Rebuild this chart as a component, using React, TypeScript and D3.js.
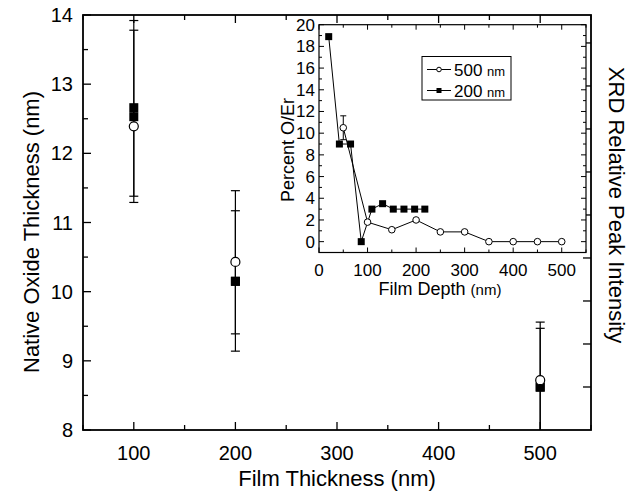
import React from "react";
import * as d3 from "d3";

// main plot: native oxide thickness vs film thickness
const filmThickness = [100, 200, 500];
const oxideOpen = [12.39, 10.43, 8.72];
const oxideOpenLo = [11.38, 9.39, 7.9];
const oxideOpenHi = [13.78, 11.46, 9.56];
const oxideFilled = [12.66, 10.15, 8.62];
const oxideFilled2 = [12.53, 10.15, 8.62];
const oxideFilledLo = [11.29, 9.14, 7.7];
const oxideFilledHi = [13.92, 11.17, 9.47];

const mainXTicks = [100, 200, 300, 400, 500];
const mainXMinor = [50, 150, 250, 350, 450, 550];
const mainYTicks = [8, 9, 10, 11, 12, 13, 14];
const mainYMinor = [8.5, 9.5, 10.5, 11.5, 12.5, 13.5];
const rightTicks = [1, 2, 3, 4, 5, 6, 7, 8, 9];

// inset: percent O/Er vs film depth
const depth500 = [50, 100, 150, 200, 250, 300, 350, 400, 450, 500];
const pct500 = [10.5, 1.8, 1.1, 2.0, 0.9, 0.9, 0, 0, 0, 0];
const pct500Err = [1.1, 0, 0, 0, 0, 0, 0, 0, 0, 0];
const depth200 = [20, 42, 65, 87, 109, 131, 153, 175, 197, 218];
const pct200 = [18.9, 9, 9, 0, 3, 3.5, 3, 3, 3, 3];

const insetXTicks = [0, 100, 200, 300, 400, 500];
const insetXMinor = [50, 150, 250, 350, 450, 550];
const insetYTicks = [0, 2, 4, 6, 8, 10, 12, 14, 16, 18, 20];
const insetYMinor = [-1, 1, 3, 5, 7, 9, 11, 13, 15, 17, 19];

const font = "'Liberation Sans', Arial, sans-serif";

export default function App() {
  const x = d3.scaleLinear().domain([50, 550]).range([83, 591]);
  const y = d3.scaleLinear().domain([8, 14]).range([430, 15]);
  const yr = d3.scaleLinear().domain([0, 9.65]).range([430, 15]);

  const ix = d3.scaleLinear().domain([0, 550]).range([319, 586]);
  const iy = d3.scaleLinear().domain([-1, 20]).range([252.5, 24.7]);

  const line500 = d3.line<number>().x((d, i) => ix(depth500[i])).y(d => iy(d));
  const line200 = d3.line<number>().x((d, i) => ix(depth200[i])).y(d => iy(d));

  const [x0, x1] = x.range();
  const [yb, yt] = y.range();
  const [ix0, ix1] = ix.range();
  const [iyb, iyt] = iy.range();
  const sq = 9;

  return (
    <svg width={635} height={491} style={{ position: "absolute", left: 0, top: 0, background: "#fff" }} fontFamily={font}>
      <defs>
        <clipPath id="mainClip">
          <rect x={x0} y={yt} width={x1 - x0} height={yb - yt} />
        </clipPath>
      </defs>

      {/* main ticks */}
      <g stroke="#000" strokeWidth={1.3}>
        {mainXTicks.map(t => (
          <g key={"xt" + t}>
            <line x1={x(t)} x2={x(t)} y1={yb} y2={yb - 8} />
            <line x1={x(t)} x2={x(t)} y1={yt} y2={yt + 8} />
          </g>
        ))}
        {mainXMinor.map(t => (
          <g key={"xm" + t}>
            <line x1={x(t)} x2={x(t)} y1={yb} y2={yb - 5} />
            <line x1={x(t)} x2={x(t)} y1={yt} y2={yt + 5} />
          </g>
        ))}
        {mainYTicks.map(t => <line key={"yt" + t} x1={x0} x2={x0 + 8} y1={y(t)} y2={y(t)} />)}
        {mainYMinor.map(t => <line key={"ym" + t} x1={x0} x2={x0 + 5} y1={y(t)} y2={y(t)} />)}
        {rightTicks.map(t => <line key={"rt" + t} x1={x1} x2={x1 - 8} y1={yr(t)} y2={yr(t)} />)}
      </g>
      <rect x={x0} y={yt} width={x1 - x0} height={yb - yt} fill="none" stroke="#000" strokeWidth={1.8} />

      {/* tick labels */}
      <g fontSize={20} textAnchor="middle">
        {mainXTicks.map(t => <text key={"xl" + t} x={x(t)} y={460}>{t}</text>)}
      </g>
      <g fontSize={20} textAnchor="end">
        {mainYTicks.map(t => <text key={"yl" + t} x={x0 - 10} y={y(t) + 7}>{t}</text>)}
      </g>

      {/* axis titles */}
      <text x={337} y={486} fontSize={22} textAnchor="middle">Film Thickness (nm)</text>
      <text transform="translate(39,232) rotate(-90)" fontSize={22} textAnchor="middle">Native Oxide Thickness (nm)</text>
      <text transform="translate(609,205) rotate(90)" fontSize={22} textAnchor="middle">XRD Relative Peak Intensity</text>

      {/* error bars + markers */}
      <g clipPath="url(#mainClip)" stroke="#000" strokeWidth={1.2}>
        {filmThickness.map((t, i) => (
          <g key={"ef" + t}>
            <line x1={x(t)} x2={x(t)} y1={y(oxideFilledLo[i])} y2={y(oxideFilledHi[i])} />
            <line x1={x(t) - 4.5} x2={x(t) + 4.5} y1={y(oxideFilledLo[i])} y2={y(oxideFilledLo[i])} />
            <line x1={x(t) - 4.5} x2={x(t) + 4.5} y1={y(oxideFilledHi[i])} y2={y(oxideFilledHi[i])} />
          </g>
        ))}
        {filmThickness.map((t, i) => (
          <g key={"eo" + t}>
            <line x1={x(t)} x2={x(t)} y1={y(oxideOpenLo[i])} y2={y(oxideOpenHi[i])} />
            <line x1={x(t) - 4.5} x2={x(t) + 4.5} y1={y(oxideOpenLo[i])} y2={y(oxideOpenLo[i])} />
            <line x1={x(t) - 4.5} x2={x(t) + 4.5} y1={y(oxideOpenHi[i])} y2={y(oxideOpenHi[i])} />
          </g>
        ))}
      </g>
      {filmThickness.map((t, i) => (
        <g key={"mk" + t}>
          <rect x={x(t) - sq / 2} y={y(oxideFilled[i]) - sq / 2} width={sq} height={sq} fill="#000" />
          <rect x={x(t) - sq / 2} y={y(oxideFilled2[i]) - sq / 2} width={sq} height={sq} fill="#000" />
          <circle cx={x(t)} cy={y(oxideOpen[i])} r={4.5} fill="#fff" stroke="#000" strokeWidth={1.2} />
        </g>
      ))}

      {/* inset */}
      <g>
        <rect x={ix0} y={iyt} width={ix1 - ix0} height={iyb - iyt} fill="#fff" stroke="none" />
        <g stroke="#000" strokeWidth={1}>
          {insetXTicks.map(t => (
            <g key={"ixt" + t}>
              <line x1={ix(t)} x2={ix(t)} y1={iyb} y2={iyb - 5} />
              <line x1={ix(t)} x2={ix(t)} y1={iyt} y2={iyt + 5} />
            </g>
          ))}
          {insetXMinor.map(t => (
            <g key={"ixm" + t}>
              <line x1={ix(t)} x2={ix(t)} y1={iyb} y2={iyb - 3} />
              <line x1={ix(t)} x2={ix(t)} y1={iyt} y2={iyt + 3} />
            </g>
          ))}
          {insetYTicks.map(t => (
            <g key={"iyt" + t}>
              <line x1={ix0} x2={ix0 + 5} y1={iy(t)} y2={iy(t)} />
              <line x1={ix1} x2={ix1 - 5} y1={iy(t)} y2={iy(t)} />
            </g>
          ))}
          {insetYMinor.map(t => (
            <g key={"iym" + t}>
              <line x1={ix0} x2={ix0 + 3} y1={iy(t)} y2={iy(t)} />
              <line x1={ix1} x2={ix1 - 3} y1={iy(t)} y2={iy(t)} />
            </g>
          ))}
        </g>
        <rect x={ix0} y={iyt} width={ix1 - ix0} height={iyb - iyt} fill="none" stroke="#000" strokeWidth={1.2} />

        <g fontSize={17} textAnchor="middle">
          {insetXTicks.map(t => <text key={"ixl" + t} x={ix(t)} y={276}>{t}</text>)}
        </g>
        <g fontSize={17} textAnchor="end">
          {insetYTicks.map(t => <text key={"iyl" + t} x={ix0 - 4} y={iy(t) + 6}>{t}</text>)}
        </g>
        <text x={440} y={295} fontSize={18} textAnchor="middle">
          Film Depth <tspan fontSize={15}>(nm)</tspan>
        </text>
        <text transform="translate(294,150) rotate(-90)" fontSize={18} textAnchor="middle">Percent O/Er</text>

        <path d={line500(pct500) || ""} fill="none" stroke="#000" strokeWidth={1} />
        <path d={line200(pct200) || ""} fill="none" stroke="#000" strokeWidth={1} />
        {depth500.map((d, i) => pct500Err[i] > 0 ? (
          <g key={"ie" + d} stroke="#000" strokeWidth={1}>
            <line x1={ix(d)} x2={ix(d)} y1={iy(pct500[i] - pct500Err[i])} y2={iy(pct500[i] + pct500Err[i])} />
            <line x1={ix(d) - 3} x2={ix(d) + 3} y1={iy(pct500[i] + pct500Err[i])} y2={iy(pct500[i] + pct500Err[i])} />
            <line x1={ix(d) - 3} x2={ix(d) + 3} y1={iy(pct500[i] - pct500Err[i])} y2={iy(pct500[i] - pct500Err[i])} />
          </g>
        ) : null)}
        {depth500.map((d, i) => (
          <circle key={"ic" + d} cx={ix(d)} cy={iy(pct500[i])} r={3.3} fill="#fff" stroke="#000" strokeWidth={1} />
        ))}
        {depth200.map((d, i) => (
          <rect key={"is" + d} x={ix(d) - 3.5} y={iy(pct200[i]) - 3.5} width={7} height={7} fill="#000" />
        ))}

        {/* legend */}
        <rect x={422} y={56.5} width={89} height={43.5} fill="#fff" stroke="#000" strokeWidth={1} />
        <line x1={427} x2={451} y1={69.5} y2={69.5} stroke="#000" strokeWidth={1} />
        <circle cx={439} cy={69.5} r={2.3} fill="#fff" stroke="#000" strokeWidth={1} />
        <text x={454} y={75.5} fontSize={17}>500 <tspan fontSize={13}>nm</tspan></text>
        <line x1={427} x2={451} y1={90.5} y2={90.5} stroke="#000" strokeWidth={1} />
        <rect x={436.5} y={88} width={5} height={5} fill="#000" />
        <text x={454} y={96.5} fontSize={17}>200 <tspan fontSize={13}>nm</tspan></text>
      </g>
    </svg>
  );
}
